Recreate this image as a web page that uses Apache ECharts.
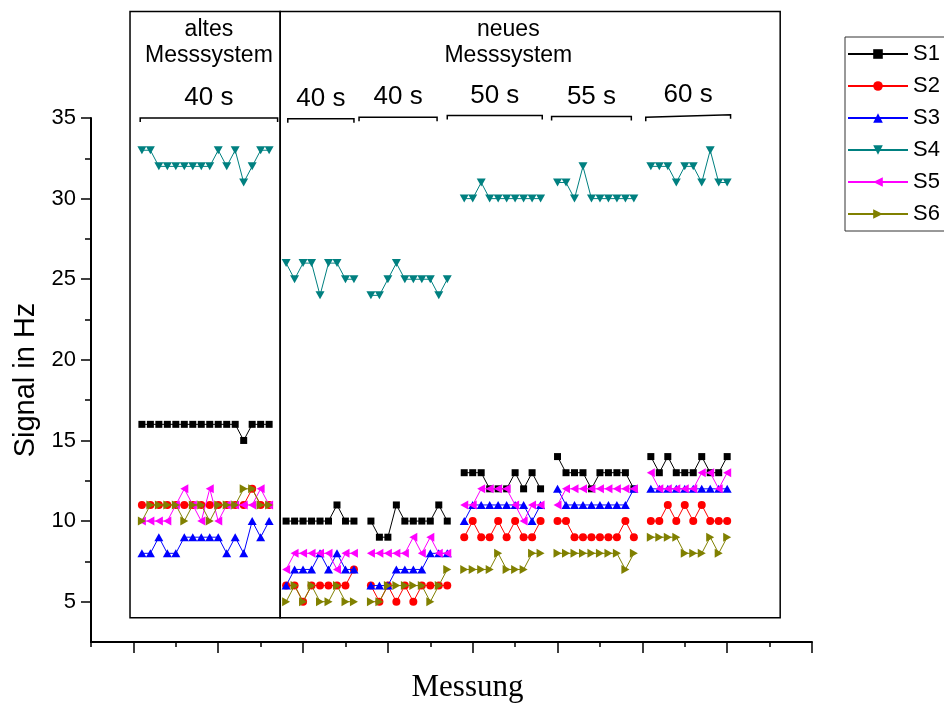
<!DOCTYPE html>
<html>
<head>
<meta charset="utf-8">
<script src="https://cdn.jsdelivr.net/npm/echarts@6/dist/echarts.min.js"></script>
<style>
  html, body { margin: 0; padding: 0; background: #ffffff; }
  #chart { width: 944px; height: 708px; }
</style>
</head>
<body>
<div id="chart"></div>
<script>
// Messung index of the first measurement in each run
const groupStart = [1, 18, 28, 39, 50, 61];
// Measuring time of each run
const groupLabels = ['40 s', '40 s', '40 s', '50 s', '55 s', '60 s'];

// Signal in Hz per sensor, one array per run
const s1 = [
  [16, 16, 16, 16, 16, 16, 16, 16, 16, 16, 16, 16, 15, 16, 16, 16],
  [10, 10, 10, 10, 10, 10, 11, 10, 10],
  [10, 9, 9, 11, 10, 10, 10, 10, 11, 10],
  [13, 13, 13, 12, 12, 12, 13, 12, 13, 12],
  [14, 13, 13, 13, 12, 13, 13, 13, 13, 12],
  [14, 13, 14, 13, 13, 13, 14, 13, 13, 14]
];
const s2 = [
  [11, 11, 11, 11, 11, 11, 11, 11, 11, 11, 11, 11, 11, 12, 11, 11],
  [6, 6, 5, 6, 6, 6, 6, 6, 7],
  [6, 5, 6, 5, 6, 5, 6, 6, 6, 6],
  [9, 10, 9, 9, 10, 9, 10, 9, 9, 10],
  [10, 10, 9, 9, 9, 9, 9, 9, 10, 9],
  [10, 10, 11, 10, 11, 10, 11, 10, 10, 10]
];
const s3 = [
  [8, 8, 9, 8, 8, 9, 9, 9, 9, 9, 8, 9, 8, 10, 9, 10],
  [6, 7, 7, 7, 8, 7, 8, 7, 7],
  [6, 6, 6, 7, 7, 7, 7, 8, 8, 8],
  [10, 11, 11, 11, 11, 11, 11, 11, 10, 11],
  [12, 11, 11, 11, 11, 11, 11, 11, 11, 12],
  [12, 12, 12, 12, 12, 12, 12, 12, 12, 12]
];
const s4 = [
  [33, 33, 32, 32, 32, 32, 32, 32, 32, 33, 32, 33, 31, 32, 33, 33],
  [26, 25, 26, 26, 24, 26, 26, 25, 25],
  [24, 24, 25, 26, 25, 25, 25, 25, 24, 25],
  [30, 30, 31, 30, 30, 30, 30, 30, 30, 30],
  [31, 31, 30, 32, 30, 30, 30, 30, 30, 30],
  [32, 32, 32, 31, 32, 32, 31, 33, 31, 31]
];
const s5 = [
  [10, 10, 10, 10, 11, 12, 11, 10, 12, 10, 11, 11, 11, 11, 12, 11],
  [7, 8, 8, 8, 8, 8, 7, 8, 8],
  [8, 8, 8, 8, 8, 9, 8, 9, 8, 8],
  [11, 11, 12, 12, 12, 12, 11, 10, 11, 11],
  [11, 12, 12, 12, 12, 12, 12, 12, 12, 12],
  [13, 12, 12, 12, 12, 12, 13, 13, 12, 13]
];
const s6 = [
  [10, 11, 11, 11, 11, 10, 11, 11, 10, 11, 11, 11, 12, 12, 11, 11],
  [5, 6, 5, 6, 5, 5, 6, 5, 5],
  [5, 5, 6, 6, 6, 6, 6, 5, 6, 7],
  [7, 7, 7, 7, 8, 7, 7, 7, 8, 8],
  [8, 8, 8, 8, 8, 8, 8, 8, 7, 8],
  [9, 9, 9, 9, 8, 8, 8, 9, 8, 9]
];

// Axis ticks
const yMajorTicks = [5, 10, 15, 20, 25, 30, 35];
const yMinorTicks = [7.5, 12.5, 17.5, 22.5, 27.5, 32.5];
const xMajorTicks = [0, 10, 20, 30, 40, 50, 60, 70, 80];
const xMinorTicks = [-5, 5, 15, 25, 35, 45, 55, 65, 75];

// Annotation frames: Messung positions of the panel borders, value of the bottom border
const panelEdges = [-0.4, 17.3, 76.25];
const panelBottom = 4;
const panelTop = 41.6;
const systemLabels = [['altes', 'Messsystem'], ['neues', 'Messsystem']];
const systemLabelX = [8.9, 44.2];
// Brackets over each run: [from, to, value at left end, value at right end]
const brackets = [
  [0.8, 17.0, 35.0, 35.0],
  [18.2, 26.0, 34.95, 34.95],
  [26.6, 35.8, 35.05, 35.05],
  [37.0, 48.2, 35.15, 35.15],
  [49.3, 58.7, 35.1, 35.1],
  [60.4, 70.4, 35.05, 35.2]
];

const SANS = '"Liberation Sans", Arial, Helvetica, sans-serif';
const SERIF = '"Liberation Serif", "Times New Roman", serif';

const seriesDefs = [
  { name: 'S1', values: s1, color: '#000000', symbol: 'rect', size: 7 },
  { name: 'S2', values: s2, color: '#ff0000', symbol: 'circle', size: 8 },
  { name: 'S3', values: s3, color: '#0000ff', symbol: 'triangle', size: [9, 8] },
  { name: 'S4', values: s4, color: '#008080', symbol: 'path://M0,0L10,0L5,9Z', size: [9, 8] },
  { name: 'S5', values: s5, color: '#ff00ff', symbol: 'path://M9,0L9,10L0,5Z', size: [8, 9] },
  { name: 'S6', values: s6, color: '#808000', symbol: 'path://M0,0L9,5L0,10Z', size: [8, 9] }
];

// Turn the per-run arrays into [messung, value] pairs, breaking the line between runs
function buildData(groups) {
  const out = [];
  groups.forEach((vals, g) => {
    vals.forEach((v, i) => out.push([groupStart[g] + i, v]));
    out.push([groupStart[g] + vals.length, '-']);
  });
  return out;
}

const chart = echarts.init(document.getElementById('chart'), null, { renderer: 'canvas' });

const option = {
  animation: false,
  backgroundColor: '#ffffff',
  grid: { left: 91, right: 132, top: 118, bottom: 61, containLabel: false },
  xAxis: [
    {
      type: 'value', min: -5, max: 80, interval: 5,
      position: 'bottom',
      name: 'Messung', nameLocation: 'middle', nameGap: 30,
      nameTextStyle: { fontFamily: SERIF, fontSize: 31, color: '#000', padding: [0, 0, 0, 32] },
      axisLine: { show: true, onZero: false, lineStyle: { color: '#000', width: 2 } },
      axisTick: { show: true, length: 11, customValues: xMajorTicks, lineStyle: { color: '#000', width: 1.5 } },
      axisLabel: { show: false },
      splitLine: { show: false }
    },
    {
      type: 'value', min: -5, max: 80, interval: 5,
      position: 'bottom', gridIndex: 0,
      axisLine: { show: false, onZero: false },
      axisTick: { show: true, length: 5, customValues: xMinorTicks, lineStyle: { color: '#000', width: 1.5 } },
      axisLabel: { show: false },
      splitLine: { show: false }
    }
  ],
  yAxis: [
    {
      type: 'value', min: 2.5, max: 35, interval: 2.5,
      position: 'left',
      name: 'Signal in Hz', nameLocation: 'middle', nameGap: 50,
      nameTextStyle: { fontFamily: SANS, fontSize: 29, color: '#000' },
      axisLine: { show: true, onZero: false, lineStyle: { color: '#000', width: 2 } },
      axisTick: { show: true, length: 10, customValues: yMajorTicks, lineStyle: { color: '#000', width: 1.5 } },
      axisLabel: { show: true, customValues: yMajorTicks, margin: 15, fontFamily: SANS, fontSize: 22, color: '#000' },
      splitLine: { show: false }
    },
    {
      type: 'value', min: 2.5, max: 35, interval: 2.5,
      position: 'left', gridIndex: 0,
      axisLine: { show: false, onZero: false },
      axisTick: { show: true, length: 6, customValues: yMinorTicks, lineStyle: { color: '#000', width: 1.5 } },
      axisLabel: { show: false },
      splitLine: { show: false }
    }
  ],
  legend: {
    orient: 'vertical',
    left: 845, top: 37,
    padding: [6, 60, 6, 2],
    itemWidth: 60, itemHeight: 12, itemGap: 10,
    borderColor: '#333', borderWidth: 1,
    textStyle: { fontFamily: SANS, fontSize: 22, color: '#000' },
    data: seriesDefs.map(d => d.name)
  },
  series: seriesDefs.map((d, k) => ({
    type: 'line',
    name: d.name,
    data: buildData(d.values),
    xAxisIndex: 0, yAxisIndex: 0,
    symbol: d.symbol,
    symbolSize: d.size,
    showSymbol: true,
    connectNulls: false,
    itemStyle: { color: d.color },
    lineStyle: { color: d.color, width: 1 },
    z: 2 + k
  }))
};

chart.setOption(option);

// Frames, run brackets and headings placed in data coordinates of the grid
const px = (x, y) => chart.convertToPixel({ gridIndex: 0 }, [x, y]);
const graphics = [];
for (let i = 0; i < panelEdges.length - 1; i++) {
  const a = px(panelEdges[i], panelTop);
  const b = px(panelEdges[i + 1], panelBottom);
  graphics.push({
    type: 'rect', z: 1,
    shape: { x: a[0], y: a[1], width: b[0] - a[0], height: b[1] - a[1] },
    style: { fill: 'none', stroke: '#000', lineWidth: 1.5 }
  });
}
systemLabels.forEach((lines, i) => {
  const p1 = px(systemLabelX[i], 40.45);
  const p2 = px(systemLabelX[i], 38.85);
  graphics.push({ type: 'text', z: 1, style: { text: lines[0], x: p1[0], y: p1[1], textAlign: 'center', textVerticalAlign: 'middle', font: '23px ' + SANS, fill: '#000' } });
  graphics.push({ type: 'text', z: 1, style: { text: lines[1], x: p2[0], y: p2[1], textAlign: 'center', textVerticalAlign: 'middle', font: '23px ' + SANS, fill: '#000' } });
});
brackets.forEach((br, i) => {
  const l = px(br[0], br[2]);
  const r = px(br[1], br[3]);
  graphics.push({
    type: 'polyline', z: 1,
    shape: { points: [[l[0], l[1] + 4], l, r, [r[0], r[1] + 4]] },
    style: { stroke: '#000', lineWidth: 1.5, fill: 'none' }
  });
  graphics.push({
    type: 'text', z: 1,
    style: {
      text: groupLabels[i], x: (l[0] + r[0]) / 2, y: Math.min(l[1], r[1]) - 20,
      textAlign: 'center', textVerticalAlign: 'middle', font: '26px ' + SANS, fill: '#000'
    }
  });
});
chart.setOption({ graphic: graphics });
</script>
</body>
</html>
